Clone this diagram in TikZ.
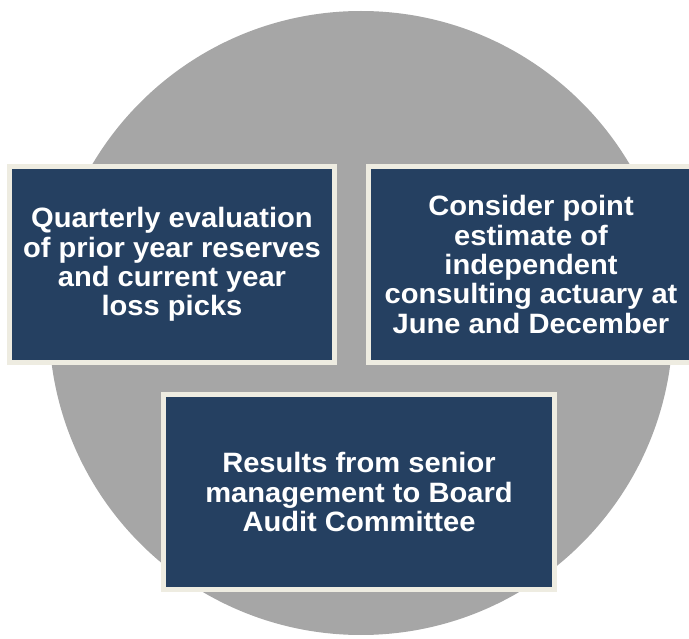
\documentclass[tikz,border=0pt]{standalone}
\usepackage{fontspec}
\setmainfont{Liberation Sans}
\newfontfamily\boxfont{Liberation Sans}[FakeStretch=1.04]
\usetikzlibrary{shadows}
\definecolor{disc}{HTML}{A6A6A6}
\definecolor{navy}{HTML}{254061}
\definecolor{cream}{HTML}{EEECE1}
\begin{document}
\begin{tikzpicture}[x=1pt,y=-1pt,
  stepbox/.style={draw=cream, line width=5pt, fill=navy, text=white,
    font=\boxfont\bfseries\fontsize{28}{29.3}\selectfont, align=center, inner sep=0pt,
    minimum width=325pt, minimum height=196pt,
    drop shadow={shadow xshift=1pt, shadow yshift=-1.5pt, opacity=0.35, fill=black!60}}]
\useasboundingbox (0,0) rectangle (689,639);
\node[circle, fill=disc, minimum size=624pt, inner sep=0pt] (disc) at (361,323) {};
\node[stepbox] (q) at (172,264.5) {Quarterly evaluation\\of prior year reserves\\and current year\\loss picks};
\node[stepbox] (c) at (531,264.5) {Consider point\\estimate of\\independent\\consulting actuary at\\June and December};
\node[stepbox, minimum width=391pt, minimum height=195pt] (r) at (359,492) {Results from senior\\management to Board\\Audit Committee};
\end{tikzpicture}
\end{document}
